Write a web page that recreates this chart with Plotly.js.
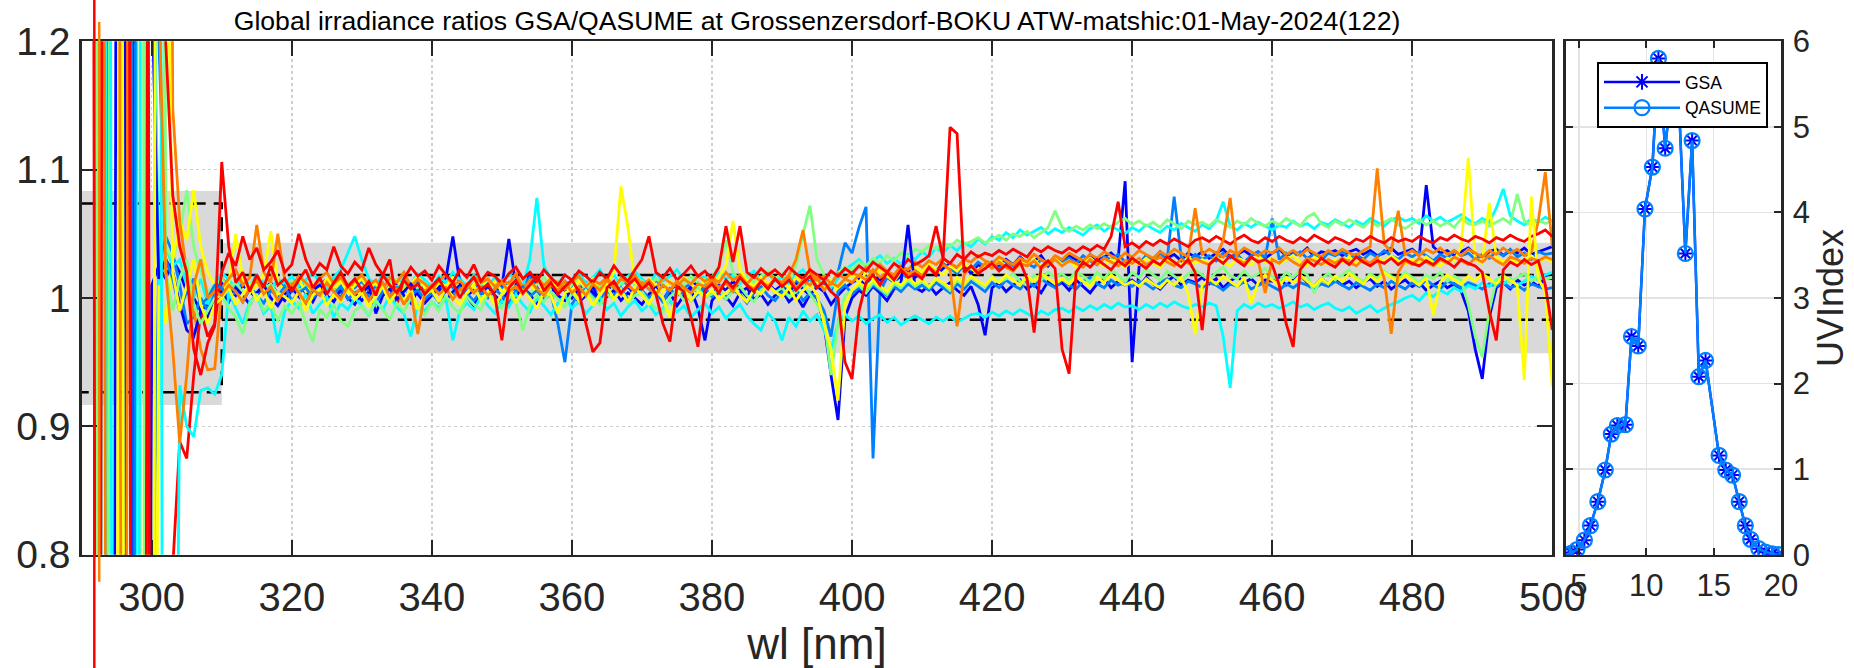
<!DOCTYPE html>
<html><head><meta charset="utf-8">
<script src="https://cdn.plot.ly/plotly-3.0.1.min.js"></script>
<style>html,body{margin:0;padding:0;background:#fff;}#chart{width:1854px;height:668px;}</style>
</head><body><div id="chart"></div>
<script>
const chartTitle = "Global irradiance ratios GSA/QASUME at Grossenzersdorf-BOKU ATW-matshic:01-May-2024(122)";
// wavelength grid: 290..500 nm, 1 nm step
const wlFirst = 290, wlLast = 500, wlStep = 1;
const xTickVals = [300, 320, 340, 360, 380, 400, 420, 440, 460, 480, 500];
const yTickVals = [0.8, 0.9, 1.0, 1.1, 1.2];
const uvXTickVals = [5, 10, 15, 20];
const uvYTickVals = [0, 1, 2, 3, 4, 5, 6];

// tolerance bands and limits (ratio) for the two wavelength ranges
const bandWl = [290, 310, 500];
const bandLo = [0.9166, 0.957];
const bandHi = [1.0834, 1.043];
const limLo = [0.9265, 0.983];
const limHi = [1.0737, 1.018];

// ratio deviations GSA/QASUME in per mille (ratio = 1 + v/1000), one value per nm 290..500
const devBlueA = [-1500,-2000,-1200,-1800,-2400,600,1500,300,-2700,-2090,
10,25,15,30,20,5,0,-10,-5,5,
12,8,2,10,5,0,7,12,3,-2, 6,10,4,-3,8,12,5,0,9,4, -2,5,10,3,7,12,2,-4,6,9,
3,8,15,48,12,2,6,10,1,5, 9,46,10,3,20,8,-2,4,10,6, 0,7,12,4,-3,6,11,5,9,2,
8,13,4,-2,7,10,3,9,12,5, 2,10,6,13,7,1,9,4,11,6, 10,4,12,7,2,9,5,-5,2,8,
12,15,9,18,14,20,13,17,22,16, 20,24,18,23,27,21,25,19,26,23, 28,24,30,26,32,27,29,33,25,31,
28,33,30,26,34,29,32,35,30,91, -50,25,33,30,36,31,34,29,35,32, 36,31,35,38,32,34,37,33,36,31,
35,38,33,36,34,39,32,36,35,37, 33,36,38,34,37,33,35,39,34,36, 38,33,88,40,35,37,33,36,39,34,
32,36,38,33,37,35,39,34,36,38, 40];
const devBlueB = [1800,2500,1400,2200,1600,1200,600,-2400,2400,2000,
246,15,30,20,-5,-25,-30,-10,-15,0,
5,-3,8,2,-5,4,10,0,-6,3, 8,1,-4,6,10,2,-3,7,0,-5, 4,9,-12,2,7,-1,5,11,3,-4,
2,8,-2,5,10,1,-6,4,9,2, -3,6,1,8,3,-5,4,10,2,-2, 5,-3,2,9,-4,1,6,-2,4,0,
-5,3,8,-2,4,-6,2,7,-8,-33, -2,5,1,-6,4,8,-1,3,-5,2, 6,-3,2,-7,3,0,-20,-60,-95,-15,
0,6,2,9,4,-2,7,12,57,8, 5,10,3,8,12,6,2,9,-5,-29, 8,12,5,10,14,7,11,4,13,9,
12,6,14,9,4,11,15,8,13,10, 14,9,16,11,7,13,17,10,14,12, 16,11,15,8,13,17,12,15,10,14,
13,16,10,14,18,12,9,15,11,14, 10,13,8,12,15,9,13,7,11,14, 9,12,6,10,13,8,11,5,-10,-40,
-63,-15,8,12,7,14,10,13,9,16, 15];
const devDodgerA = [-1600,-2200,-1300,-1800,1200,2000,1500,900,-2100,-1500,
-294,20,48,35,10,-20,-15,0,-10,5,
15,10,4,12,8,3,11,6,14,9, 5,12,8,2,10,15,7,4,11,8, 13,6,9,3,10,14,8,2,12,7,
10,4,13,8,15,6,11,3,9,14, 7,12,5,10,16,8,3,11,7,13, 9,14,6,11,4,12,8,15,10,5,
12,7,14,9,5,13,8,11,4,10, 14,8,12,6,15,10,7,13,9,16, 11,7,14,10,15,8,12,5,20,43,
35,55,71,-125,5,16,12,20,15,22, 18,25,21,27,23,19,26,22,28,24, 27,23,29,25,31,27,24,30,26,32,
28,31,27,33,29,26,32,30,34,28, 31,27,33,29,35,30,79,32,28,34, 30,33,29,35,31,34,28,33,36,31,
62,30,35,32,36,31,34,29,35,33, 36,31,34,30,35,32,37,33,30,35, 32,36,33,29,34,31,37,33,35,30,
34,31,36,33,38,32,35,30,36,34, 35];
const devDodgerB = [2000,1500,2400,1700,2100,2700,-300,-1800,1200,1600,
1800,205,30,15,-10,5,15,-5,0,10,
8,0,5,-3,7,2,-4,6,1,9, -2,4,8,0,5,-3,3,9,-1,4, 7,1,-4,5,2,8,-2,3,6,-1,
4,-3,6,1,8,3,-2,5,0,7, 2,-4,5,9,1,6,-2,4,-20,-50, -5,4,7,1,-3,6,2,8,-1,3,
6,0,4,-3,7,2,5,-2,3,8, 1,5,-1,6,3,-4,4,9,2,-2, 5,1,7,-2,4,0,-10,-30,5,10,
3,8,4,10,6,2,9,5,11,7, 10,6,12,8,4,11,7,13,9,5, 12,8,14,10,7,13,9,15,11,8,
14,10,7,13,16,11,8,14,10,12, 9,13,11,7,12,15,10,8,13,11, 8,12,10,6,11,9,13,7,10,12,
9,6,11,8,12,10,7,11,9,13, 10,7,12,9,6,11,8,13,10,7, 12,9,14,10,7,13,11,8,12,10,
7,11,9,12,8,10,6,11,9,7, 8];
const devCyanA = [-1800,-2500,-6000,1500,-1500,-2000,-1200,-2400,600,1500,
390,10,40,25,30,10,0,15,-5,10,
20,14,8,16,10,18,12,6,15,11, 17,9,14,20,12,7,16,22,35,48, 30,15,10,18,13,8,16,11,19,14,
9,17,12,20,14,10,18,13,8,16, 12,19,14,9,30,78,25,15,11,18, 14,20,11,16,22,13,18,10,17,21,
15,10,19,13,17,22,14,11,18,16, 12,20,15,18,11,17,21,14,19,13, 16,11,18,22,15,12,17,8,15,22,
26,30,24,29,33,27,31,26,34,30, 36,32,39,35,41,37,43,40,46,42, 48,45,51,47,53,49,52,55,50,54,
51,55,52,49,54,57,52,56,53,50, 55,52,57,54,51,56,53,58,55,52, 57,54,60,75,56,53,58,55,59,56,
53,57,55,60,56,58,54,59,57,61, 58,55,60,57,62,59,56,61,63,60, 62,58,64,60,63,59,62,65,61,58,
62,59,70,85,64,60,57,62,59,63, 60];
const devCyanB = [1500,2200,1800,2500,600,-2400,-1500,-2000,-900,2100,
1500,1200,-1800,-728,-68,-100,-108,-72,-70,-75,
-60,5,-8,-20,-3,2,-12,-6,-35,-10, -2,-8,3,-12,-5,1,-15,-4,-9,0, -6,-14,-2,-9,2,-7,-12,-30,-5,-10,
-3,-8,0,-33,-10,-4,-9,1,-6,-12, -2,-7,3,-5,-11,0,-6,-13,-4,2, -8,-3,-12,-6,1,-9,-4,-14,-7,-2,
-10,-5,-13,-8,-2,-11,-6,-15,-9,-4, -12,-7,-16,-10,-5,-14,-20,-25,-12,-18, -33,-15,-22,-10,-18,-13,-25,-40,-20,-12,
-18,-14,-20,-16,-13,-19,-15,-21,-17,-14, -17,-20,-15,-18,-14,-19,-16,-13,-12,-15, -11,-14,-10,-13,-9,-12,-15,-10,-13,-9,
-8,-11,-7,-10,-6,-9,-5,-8,-4,-7, -6,-9,-5,-8,-4,-7,-3,-6,-8,-5, -7,-4,-6,-30,-70,-10,-5,-8,-4,-7,
-5,-8,-6,-3,-7,-5,-9,-6,-4,-8, -10,-7,-12,-9,-6,-11,-8,-5,-3,0, 2,-2,4,1,6,3,8,5,10,7,
12,9,14,11,15,10,13,17,14,18, 20];
const devGreenA = [-2000,-1600,-2400,-2700,300,2000,1500,2400,2700,-300,
-1200,1800,40,30,50,84,40,20,5,10,
15,8,12,4,10,16,7,11,3,9, 13,6,10,2,8,14,5,9,12,4, 7,11,3,9,14,6,10,2,8,12,
5,13,9,15,7,11,4,10,14,8, 12,6,14,9,3,11,16,8,13,7, 10,15,6,12,9,14,7,11,16,10,
13,8,15,11,6,14,10,17,12,9, 16,25,45,20,14,18,12,17,21,15, 19,14,25,50,72,30,18,10,20,24,
22,28,25,31,27,33,29,35,32,38, 36,41,38,43,40,45,42,44,47,43, 46,49,45,50,48,52,47,51,55,68,
55,52,56,53,57,54,58,55,59,62, 57,60,56,59,55,61,58,54,60,57, 59,56,61,58,55,60,57,62,58,56,
60,57,62,59,56,63,66,58,55,60, 57,61,58,55,60,56,59,62,57,54, 58,61,57,60,56,59,55,62,58,57,
60,56,59,62,58,81,60,57,61,58, 60];
const devGreenB = [1600,2100,600,-2400,-1800,-2200,-1500,-2600,-1900,-300,
2700,800,20,-10,15,30,-5,-20,-10,0,
2,-8,-15,-28,-5,3,-10,-4,-18,-6, -12,-3,-20,-34,-9,-15,-5,-18,-22,-10, -6,-14,-2,-9,-17,-4,-11,0,-8,-13,
-3,-10,2,-7,-12,1,-5,-9,4,-2, -8,3,-4,-25,-6,2,-3,5,-1,-7, 4,-2,6,0,-5,3,-1,7,-4,2,
5,-3,-8,-11,1,6,-2,4,8,0, 3,7,-1,5,9,2,-3,6,10,4, 8,1,5,11,3,-5,-15,-60,-20,2,
6,10,4,12,7,3,11,8,14,9, 13,8,15,11,6,14,10,16,12,9, 17,12,15,19,13,10,18,14,20,16,
19,14,21,17,12,20,15,22,18,13, 20,16,23,18,14,21,17,13,19,22, 18,14,20,24,17,15,21,16,19,23,
17,13,20,16,22,18,4,15,19,14, 18,22,16,13,19,15,21,17,14,20, 16,12,18,15,20,13,17,14,-5,-30,
-46,-10,14,18,12,16,19,13,17,15, 16];
const devYellowA = [-1500,-2000,-1700,-2500,-1900,-600,2400,1800,1200,-1800,
-1040,10,-20,30,60,45,84,40,20,10,
5,12,50,15,4,10,18,52,12,6, 9,14,5,11,3,16,8,13,4,10, 15,7,12,2,9,14,6,11,17,8,
4,12,9,16,7,3,11,15,8,13, 5,10,14,7,12,3,9,16,8,11, 6,13,9,15,4,11,20,87,55,12,
8,15,10,5,13,9,16,11,6,14, 10,17,25,60,22,13,9,16,11,15, 12,8,16,11,18,13,7,14,5,15,
18,12,20,15,22,17,13,21,16,24, 20,26,22,18,25,21,27,23,19,26, 24,29,25,22,28,26,30,24,27,31,
26,29,24,28,31,27,25,30,28,24, 29,26,31,27,24,30,28,25,32,27, 30,27,32,28,25,31,29,26,33,28,
31,27,30,33,28,25,32,29,26,30, 28,32,27,30,26,31,28,33,29,26, 30,27,32,28,25,31,29,40,109,30,
27,74,32,28,31,26,30,33,28,31, 28];
const devYellowB = [2200,1500,2600,1900,2400,2700,-300,-1500,-2200,-1800,
-1200,1800,400,20,-10,10,30,-5,-20,-5,
0,8,-5,3,10,-2,6,-8,4,1, -4,5,-10,2,7,-6,3,-3,8,-1, 4,-7,2,9,-4,5,-2,7,-9,3,
6,-3,8,1,-5,4,10,-2,5,-6, 3,9,-4,6,0,-8,5,2,-12,4, 7,-2,5,-6,3,9,-1,6,-3,8,
2,-5,6,0,-15,3,8,-2,5,1, 6,-1,4,9,2,-3,7,3,10,5, 1,8,-2,6,10,3,-20,-40,-80,-5,
6,12,8,14,9,5,13,10,16,11, 14,9,15,12,8,16,11,17,13,10, 16,12,18,14,10,17,13,19,15,11,
15,11,17,13,9,16,12,18,14,10, 13,9,15,11,8,14,10,16,4,-28, 10,15,11,17,13,9,16,-4,12,18,
14,10,16,12,18,13,9,15,11,17, 13,19,15,11,17,13,20,16,12,18, 14,10,16,-13,12,18,14,11,17,13,
19,15,11,17,14,10,-64,79,15,5, -69];
const devOrangeA = [-2200,-1800,-1500,1500,2200,1500,-1500,-2400,-1800,-1200,
1800,2000,1500,148,60,20,-10,-40,-56,-55,
8,15,22,10,16,57,20,12,50,14, 9,17,12,6,15,20,11,16,8,13, 18,10,14,7,16,12,20,9,15,11,
6,14,18,10,13,8,17,12,15,9, 14,11,19,8,13,16,10,15,12,7, 13,17,9,14,11,16,8,15,12,18,
10,14,7,16,12,9,15,11,17,13, 16,12,20,14,18,11,17,13,19,15, 12,18,30,53,20,14,17,11,19,15,
20,17,24,19,26,21,18,25,22,28, 24,29,26,31,27,24,30,28,33,29, 27,32,29,26,31,28,34,30,27,33,
30,35,32,29,34,31,36,33,30,35, 32,37,34,31,36,33,38,35,32,70, 34,38,35,32,37,34,39,36,33,37,
35,39,34,37,33,38,35,32,37,34, 38,35,33,37,40,101,42,36,68,34, 37,33,38,35,39,34,37,33,38,35,
32,37,34,39,35,38,33,36,60,98, 40];
const devOrangeB = [1800,2400,1600,900,-2100,-1700,-1500,1500,2000,1700,
2300,245,20,-40,-113,-60,10,30,0,5,
2,10,5,-3,8,14,3,9,-2,6, 11,4,-4,7,2,12,5,-1,9,3, 8,-2,6,12,1,7,-5,4,-28,5,
10,3,8,-1,6,11,4,9,2,7, 12,5,9,3,14,7,2,10,6,13, 4,9,2,11,6,14,8,3,10,5,
12,7,3,10,6,13,8,4,11,9, 14,8,12,5,16,10,7,13,9,15, 11,17,8,14,10,16,6,12,9,15,
12,18,14,22,16,20,15,23,19,21, 17,24,20,26,22,-22,18,25,21,27, 23,28,24,21,27,25,29,23,26,30,
25,29,27,24,30,26,31,28,25,29, 27,31,26,29,32,28,25,30,27,31, 28,26,32,45,78,30,27,31,29,4,
30,27,32,28,25,31,29,26,30,27, 31,28,25,30,27,32,15,-28,20,29, 26,31,28,25,30,27,32,29,26,31,
28,33,29,26,32,30,27,31,29,32, 30];
const devRedA = [2000,2400,-600,-1800,-2300,-1500,-900,2100,2500,1800,
-1200,-2000,-1500,-210,-112,-125,-60,-10,-30,-20,
20,35,25,48,30,39,22,28,37,20, 26,50,30,18,27,22,40,25,19,28, 22,39,26,18,30,-5,15,24,17,21,
14,25,18,12,22,16,26,13,20,17, 11,19,24,15,20,13,22,16,10,18, 14,21,17,12,20,15,25,18,13,22,
30,48,20,16,23,14,19,25,17,21, 15,24,56,28,56,20,16,23,18,22, 17,24,19,15,22,18,14,21,17,23,
19,25,21,28,24,20,27,23,30,26, 29,33,56,31,27,34,30,36,32,35, 33,37,34,38,35,32,39,36,40,37,
35,39,36,40,37,41,38,48,75,40, 43,39,44,41,45,42,46,43,40,45, 47,44,48,45,42,46,49,45,43,47,
44,48,45,43,47,44,49,46,43,47, 45,42,46,44,48,45,43,47,44,46, 44,48,45,43,47,45,49,46,44,48,
46,43,47,45,49,46,44,48,50,53, 48];
const devRedB = [-1800,-2200,-2400,600,2200,1800,2700,-300,-1600,-900,
2100,1500,200,80,40,20,-40,-60,-35,-22,
106,40,12,20,5,18,8,25,10,15, 5,14,22,8,16,3,12,20,9,15, 6,13,2,18,10,4,14,7,11,3,
9,15,5,12,0,10,16,6,11,2, -33,8,14,4,10,17,6,12,3,9, 14,5,-20,-42,-35,8,13,4,10,15,
7,12,3,-20,-34,9,5,-15,-38,6, 11,4,14,8,16,10,5,13,7,15, 9,14,6,12,17,8,13,5,0,-50,
-63,-10,12,18,10,20,14,22,16,19, 15,24,18,30,133,128,20,25,19,23, 27,21,26,22,28,15,-27,24,29,23,
-40,-59,20,28,24,30,26,22,29,25, 31,27,23,29,26,32,28,24,30,20, -25,26,31,27,33,29,25,32,28,30,
26,10,-20,-38,22,29,25,31,27,24, 30,26,32,28,25,29,27,31,26,30, 27,25,29,26,31,28,24,30,27,25,
20,-10,-33,22,28,25,30,26,29,10, -25];

// draw order and colours (jet colours)
const seriesDev = [devBlueA, devDodgerA, devCyanA, devGreenA, devYellowA, devOrangeA, devRedA,
                   devBlueB, devDodgerB, devCyanB, devGreenB, devYellowB, devOrangeB, devRedB];
const seriesColors = ['#0000ff','#0080ff','#00ffff','#80ff80','#ffff00','#ff8000','#ff0000',
                      '#0000ff','#0080ff','#00ffff','#80ff80','#ffff00','#ff8000','#ff0000'];

// off-scale spikes that run past the axes (wavelength, colour, paper extent)
const offscaleWl = [291.8, 292.5];
const offscaleColor = ['#ff0000', '#ff8000'];
const offscaleBottom = [0.0, 0.129];
const offscaleTop = [1.0, 0.967];

// UV index time series (hour UTC)
const uvHour = [4.0, 4.45, 4.85, 5.4, 5.85, 6.4, 6.95, 7.4, 7.85, 8.45, 8.9, 9.4, 9.9, 10.45, 10.9, 11.4, 11.9,
                12.45, 12.9, 13.4, 13.9, 14.4, 15.4, 15.9, 16.4, 16.9, 17.35, 17.75, 18.35, 18.85, 19.35, 19.8];
const uvGSA = [0.0, 0.02, 0.06, 0.17, 0.34, 0.62, 0.99, 1.41, 1.51, 1.52, 2.55, 2.44, 4.04, 4.53, 5.80, 4.75, 5.50,
               5.17, 3.52, 4.84, 2.08, 2.27, 1.16, 0.99, 0.93, 0.62, 0.34, 0.18, 0.07, 0.03, 0.01, 0.0];
const uvQASUME = [0.0, 0.02, 0.06, 0.17, 0.34, 0.62, 0.99, 1.41, 1.51, 1.52, 2.55, 2.44, 4.04, 4.53, 5.80, 4.75, 5.50,
                  5.17, 3.52, 4.84, 2.08, 2.27, 1.16, 0.99, 0.93, 0.62, 0.34, 0.18, 0.07, 0.03, 0.01, 0.0];

// ---------- build ----------
const W = 1854, H = 668;
const FONT = 'Liberation Sans, Arial, Helvetica, sans-serif';
const AX = '#262626';
const wl = [];
for (let w = wlFirst; w <= wlLast; w += wlStep) wl.push(w);

const traces = [];
// grey bands
for (let k = 0; k < 2; k++) {
  traces.push({x: [bandWl[k], bandWl[k+1], bandWl[k+1], bandWl[k], bandWl[k]],
    y: [bandLo[k], bandLo[k], bandHi[k], bandHi[k], bandLo[k]],
    mode: 'lines', fill: 'toself', fillcolor: '#d9d9d9', line: {width: 0, color: '#d9d9d9'},
    showlegend: false, hoverinfo: 'skip', xaxis: 'x', yaxis: 'y'});
}
// dashed limits
const dash = {color: '#000000', width: 2.5, dash: '14px,8px'};
traces.push({x: [bandWl[0], bandWl[1], bandWl[1], bandWl[0]], y: [limHi[0], limHi[0], limLo[0], limLo[0]],
  mode: 'lines', line: dash, showlegend: false, hoverinfo: 'skip', xaxis: 'x', yaxis: 'y'});
traces.push({x: [bandWl[1], bandWl[2]], y: [limHi[1], limHi[1]],
  mode: 'lines', line: dash, showlegend: false, hoverinfo: 'skip', xaxis: 'x', yaxis: 'y'});
traces.push({x: [bandWl[1], bandWl[2]], y: [limLo[1], limLo[1]],
  mode: 'lines', line: dash, showlegend: false, hoverinfo: 'skip', xaxis: 'x', yaxis: 'y'});
// ratio series
seriesDev.forEach((d, k) => {
  traces.push({x: wl, y: d.map(v => 1 + v / 1000), mode: 'lines',
    line: {color: seriesColors[k], width: 2.8, simplify: false},
    showlegend: false, hoverinfo: 'skip', xaxis: 'x', yaxis: 'y'});
});
// UV index panel
traces.push({x: uvHour, y: uvGSA, name: 'GSA', mode: 'lines+markers', xaxis: 'x2', yaxis: 'y2',
  line: {color: '#0000ff', width: 2.5},
  marker: {symbol: 'asterisk-open', size: 13, color: '#0000ff', line: {color: '#0000ff', width: 2}}});
traces.push({x: uvHour, y: uvQASUME, name: 'QASUME', mode: 'lines+markers', xaxis: 'x2', yaxis: 'y2',
  line: {color: '#0080ff', width: 2.5},
  marker: {symbol: 'circle-open', size: 15, color: '#0080ff', line: {color: '#0080ff', width: 2.2}}});

const shapes = offscaleWl.map((w, k) => ({type: 'line', xref: 'x', yref: 'paper',
  x0: w, x1: w, y0: offscaleBottom[k], y1: offscaleTop[k], line: {color: offscaleColor[k], width: 2.5}}));

const px = v => v / W, py = v => 1 - v / H;
const mainAxisCommon = {showline: true, linecolor: AX, linewidth: 2.5, mirror: 'ticks', ticks: 'inside',
  tickcolor: AX, tickwidth: 2, zeroline: false};

const layout = {
  width: W, height: H, margin: {l: 0, r: 0, t: 0, b: 0}, paper_bgcolor: '#ffffff', plot_bgcolor: '#ffffff',
  font: {family: FONT, color: AX},
  title: {text: chartTitle, font: {family: FONT, size: 26.6, color: '#000000'}, x: px(817), xref: 'paper', xanchor: 'center',
    y: py(21), yref: 'paper', yanchor: 'middle'},
  showlegend: true,
  legend: {x: px(1597), y: py(62), xanchor: 'left', yanchor: 'top', xref: 'paper', yref: 'paper',
    bgcolor: '#ffffff', bordercolor: '#000000', borderwidth: 2, itemwidth: 76,
    font: {family: FONT, size: 17.5, color: '#000000'}, tracegroupgap: 0},
  xaxis: Object.assign({}, mainAxisCommon, {domain: [px(81.7), px(1552.3)], range: [wlFirst, wlLast],
    tickmode: 'array', tickvals: xTickVals, ticklen: 15, showgrid: true, gridcolor: '#cfcfcf', griddash: 'dot', gridwidth: 1.5,
    anchor: 'y', ticklabelstandoff: 6, tickfont: {family: FONT, size: 40, color: AX},
    title: {text: 'wl [nm]', font: {family: FONT, size: 44, color: AX}, standoff: 11}}),
  yaxis: Object.assign({}, mainAxisCommon, {domain: [py(554.7), py(41.3)], range: [0.8, 1.2],
    tickmode: 'array', tickvals: yTickVals, ticklen: 15, showgrid: true, gridcolor: '#cfcfcf', griddash: 'dot', gridwidth: 1.5,
    anchor: 'x', ticklabelstandoff: 1, tickfont: {family: FONT, size: 39, color: AX}}),
  xaxis2: {domain: [px(1565.5), px(1781)], range: [4, 20], anchor: 'y2', tickmode: 'array', tickvals: uvXTickVals,
    showline: true, linecolor: AX, linewidth: 2.5, mirror: 'ticks', ticks: 'inside', ticklen: 7, tickwidth: 2, tickcolor: AX,
    showgrid: true, gridcolor: '#e3e3e3', gridwidth: 1.5, zeroline: false, ticklabelstandoff: 2,
    tickfont: {family: FONT, size: 31, color: AX}},
  yaxis2: {domain: [py(554.7), py(41.3)], range: [0, 6], anchor: 'x2', side: 'right', tickmode: 'array', tickvals: uvYTickVals,
    showline: true, linecolor: AX, linewidth: 2.5, mirror: 'ticks', ticks: 'inside', ticklen: 7, tickwidth: 2, tickcolor: AX,
    showgrid: true, gridcolor: '#e3e3e3', gridwidth: 1.5, zeroline: false, ticklabelstandoff: 3,
    tickfont: {family: FONT, size: 31, color: AX},
    title: {text: 'UVIndex', font: {family: FONT, size: 36, color: AX}, standoff: 3}},
  shapes: shapes
};

Plotly.newPlot('chart', traces, layout, {staticPlot: true, displayModeBar: false});
</script>
</body></html>
